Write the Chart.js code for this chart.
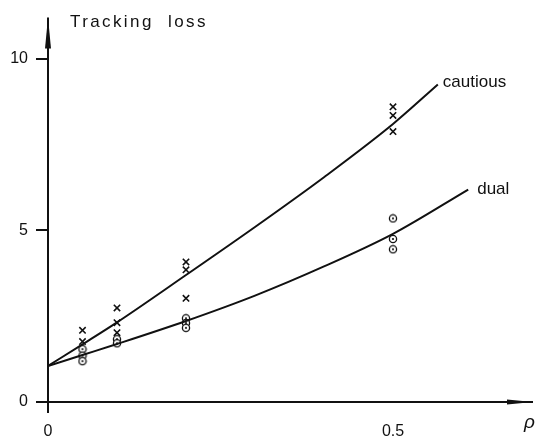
<!DOCTYPE html>
<html>
<head>
<meta charset="utf-8">
<style>
  html, body { margin: 0; padding: 0; background: #fff; }
  #wrap { width: 540px; height: 436px; }
</style>
<script src="https://cdn.jsdelivr.net/npm/chart.js@4.4.0/dist/chart.umd.min.js"></script>
</head>
<body>
<div id="wrap"><canvas id="chart" width="540" height="436"></canvas></div>
<script>
// fitted curves
const cautiousCurveRho = [0, 0.05, 0.1, 0.2, 0.3, 0.4, 0.5, 0.565];
const cautiousCurveLoss = [1.05, 1.68, 2.32, 3.7, 5.1, 6.55, 8.1, 9.25];
const dualCurveRho = [0, 0.05, 0.1, 0.2, 0.3, 0.4, 0.5, 0.609];
const dualCurveLoss = [1.05, 1.37, 1.69, 2.36, 3.1, 3.95, 4.9, 6.19];

// simulated runs
const cautiousRho = [0.05, 0.05, 0.1, 0.1, 0.1, 0.2, 0.2, 0.2, 0.5, 0.5, 0.5];
const cautiousLoss = [2.09, 1.76, 2.74, 2.31, 2.02, 4.08, 3.85, 3.02, 8.6, 8.35, 7.88];
const dualRho = [0.05, 0.05, 0.05, 0.1, 0.1, 0.2, 0.2, 0.2, 0.5, 0.5, 0.5];
const dualLoss = [1.54, 1.35, 1.19, 1.83, 1.71, 2.44, 2.3, 2.16, 5.35, 4.75, 4.45];

// axis ticks
const xTicks = [0, 0.5];
const xTickLabels = ['0', '0.5'];
const yTicks = [0, 5, 10];
const yTickLabels = ['0', '5', '10'];

const FONT = '"Liberation Sans", "DejaVu Sans", sans-serif';

function pts(xs, ys) {
  return xs.map(function(x, i) { return { x: x, y: ys[i] }; });
}

// little "circle with a dot" marker
function makeDotCircle() {
  const c = document.createElement('canvas');
  c.width = 10; c.height = 10;
  const g = c.getContext('2d');
  g.fillStyle = '#fff';
  g.strokeStyle = '#111';
  g.lineWidth = 1.3;
  g.beginPath(); g.arc(5, 5, 3.6, 0, Math.PI * 2); g.fill(); g.stroke();
  g.fillStyle = '#111';
  g.beginPath(); g.arc(5, 5, 1.1, 0, Math.PI * 2); g.fill();
  return c;
}

// axes with arrow heads, title and curve labels
const decorations = {
  id: 'decorations',
  afterDraw: function(chart) {
    const ctx = chart.ctx;
    const a = chart.chartArea;
    const xs = chart.scales.x, ys = chart.scales.y;
    const x0 = xs.getPixelForValue(0), y0 = ys.getPixelForValue(0);
    ctx.save();
    ctx.strokeStyle = '#111';
    ctx.fillStyle = '#111';
    ctx.lineWidth = 2;
    // y axis
    ctx.beginPath(); ctx.moveTo(x0, y0 + 11); ctx.lineTo(x0, a.top); ctx.stroke();
    ctx.beginPath();
    ctx.moveTo(x0, a.top); ctx.lineTo(x0 - 3, a.top + 31); ctx.lineTo(x0 + 3, a.top + 31);
    ctx.closePath(); ctx.fill();
    // x axis
    ctx.beginPath(); ctx.moveTo(x0 - 10, y0); ctx.lineTo(a.right + 2, y0); ctx.stroke();
    ctx.beginPath();
    ctx.moveTo(a.right + 2, y0); ctx.lineTo(a.right - 24, y0 - 2.5); ctx.lineTo(a.right - 24, y0 + 2.5);
    ctx.closePath(); ctx.fill();

    // title
    ctx.font = '17px ' + FONT;
    ctx.letterSpacing = '2.4px';
    ctx.textAlign = 'left';
    ctx.textBaseline = 'middle';
    ctx.fillText('Tracking  loss', x0 + 22, 22);
    ctx.letterSpacing = '0px';

    // curve labels at the end of each curve
    const ci = cautiousCurveRho.length - 1;
    ctx.font = '17px ' + FONT;
    ctx.fillText('cautious', xs.getPixelForValue(cautiousCurveRho[ci]) + 5,
      ys.getPixelForValue(cautiousCurveLoss[ci]) - 2);
    const di = dualCurveRho.length - 1;
    ctx.fillText('dual', xs.getPixelForValue(dualCurveRho[di]) + 9,
      ys.getPixelForValue(dualCurveLoss[di]) + 0);

    // rho
    ctx.font = 'italic 19px ' + FONT;
    ctx.fillText('\u03C1', a.right - 7, y0 + 21);
    ctx.restore();
  }
};

const dotCircle = makeDotCircle();

new Chart(document.getElementById('chart'), {
  type: 'scatter',
  data: {
    datasets: [
      {
        label: 'cautious',
        data: pts(cautiousCurveRho, cautiousCurveLoss),
        showLine: true,
        borderColor: '#111',
        borderWidth: 2,
        pointRadius: 0,
        cubicInterpolationMode: 'monotone'
      },
      {
        label: 'dual',
        data: pts(dualCurveRho, dualCurveLoss),
        showLine: true,
        borderColor: '#111',
        borderWidth: 2,
        pointRadius: 0,
        cubicInterpolationMode: 'monotone'
      },
      {
        label: 'cautious runs',
        data: pts(cautiousRho, cautiousLoss),
        pointStyle: 'crossRot',
        pointRadius: 4.5,
        borderColor: '#111',
        borderWidth: 1.6
      },
      {
        label: 'dual runs',
        data: pts(dualRho, dualLoss),
        pointStyle: dotCircle,
        pointRadius: 4
      }
    ]
  },
  options: {
    responsive: false,
    animation: false,
    layout: { padding: { left: 0, top: 12, right: 9, bottom: 0 } },
    plugins: {
      legend: { display: false },
      tooltip: { enabled: false }
    },
    scales: {
      x: {
        type: 'linear',
        min: 0,
        max: 0.7,
        afterFit: function(s) { s.height = 34; },
        afterBuildTicks: function(s) { s.ticks = xTicks.map(function(v) { return { value: v }; }); },
        border: { display: false },
        grid: { display: false, drawTicks: false },
        ticks: {
          padding: 20,
          color: '#111',
          font: { family: FONT, size: 16 },
          callback: function(v) { return xTickLabels[xTicks.indexOf(v)]; }
        }
      },
      y: {
        type: 'linear',
        min: 0,
        max: 11.2,
        afterFit: function(s) { s.width = 48; },
        afterBuildTicks: function(s) { s.ticks = yTicks.map(function(v) { return { value: v }; }); },
        border: { display: false },
        grid: { drawOnChartArea: false, drawTicks: true, tickLength: 12, color: '#111', lineWidth: 2 },
        ticks: {
          padding: 8,
          color: '#111',
          font: { family: FONT, size: 16 },
          callback: function(v) { return yTickLabels[yTicks.indexOf(v)]; }
        }
      }
    }
  },
  plugins: [decorations]
});
</script>
</body>
</html>
